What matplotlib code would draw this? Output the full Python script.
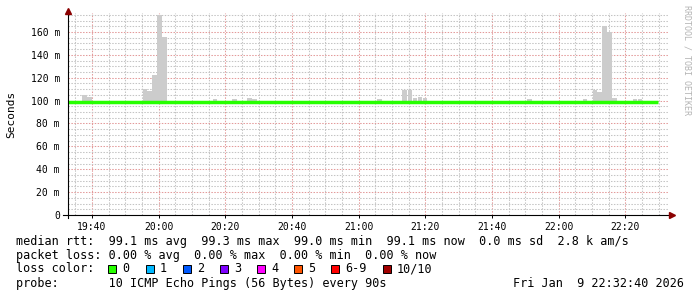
"""
SmokePing style latency graph (3 hours, 90s steps)
"""

import numpy as np
import pandas as pd
import matplotlib
matplotlib.use('Agg')
import matplotlib.pyplot as plt
import matplotlib.dates as mdates
from matplotlib.patches import Rectangle
from matplotlib.ticker import MultipleLocator, FuncFormatter

W, H = 697, 297

# start of the graph window and step of the rrd
start_time = pd.Timestamp('2026-01-09 19:32:40')
step_s = 90

# top of the smoke (ms) for every 90s step, 99.1 = no visible smoke
smoke_top_ms = [
    99.1, 99.1, 99.1, 104.9, 103.2, 99.1, 99.1, 99.1, 99.1, 99.1,
    99.1, 99.1, 99.1, 99.1, 99.1, 110.0, 108.6, 122.7, 175.1, 155.6,
    99.1, 99.1, 99.1, 99.1, 99.1, 99.1, 99.1, 99.1, 99.1, 101.4,
    99.1, 99.1, 99.1, 101.4, 99.1, 99.1, 102.3, 101.4, 99.1, 99.1,
    99.1, 99.1, 99.1, 99.1, 99.1, 99.1, 99.1, 99.1, 99.1, 99.1,
    99.1, 99.1, 99.1, 99.1, 99.1, 99.1, 99.1, 99.1, 99.1, 99.1,
    99.1, 99.1, 101.4, 99.1, 99.1, 99.1, 99.1, 109.6, 109.6, 102.3,
    103.2, 102.3, 99.1, 99.1, 99.1, 99.1, 99.1, 99.1, 99.1, 99.1,
    99.1, 99.1, 99.1, 99.1, 99.1, 99.1, 99.1, 99.1, 99.1, 99.1,
    99.1, 99.1, 101.4, 99.1, 99.1, 99.1, 99.1, 99.1, 99.1, 99.1,
    99.1, 99.1, 99.1, 101.4, 99.1, 109.6, 107.4, 165.5, 160.3, 102.6,
    99.1, 99.1, 99.1, 101.6, 101.6, 99.1, 99.1, 99.1,
]
smoke_low_ms = 99.0
median_ms = 99.1

loss_labels = ['0', '1', '2', '3', '4', '5', '6-9', '10/10']
loss_colors = ['#26ff00', '#00b8ff', '#0059ff', '#7e00ff',
               '#ff00fe', '#ff5500', '#ff0000', '#a10000']

legend_lines = [
    'median rtt:  99.1 ms avg  99.3 ms max  99.0 ms min  99.1 ms now  0.0 ms sd  2.8 k am/s',
    'packet loss: 0.00 % avg  0.00 % max  0.00 % min  0.00 % now',
    'loss color:',
    'probe:       10 ICMP Echo Pings (56 Bytes) every 90s',
]
date_text = 'Fri Jan  9 22:32:40 2026'

MONO = 'DejaVu Sans Mono'


def fx(x):
    return x / W


def fy(y):
    return 1 - y / H


def main():
    n = len(smoke_top_ms)
    times = start_time + pd.to_timedelta(np.arange(n) * step_s, unit='s')
    edges = start_time + pd.to_timedelta(np.arange(n + 1) * step_s, unit='s')
    width = step_s / 86400.0
    top = np.array(smoke_top_ms)
    median = np.array([median_ms] * n)

    fig = plt.figure(figsize=(W / 100, H / 100), dpi=100)
    fig.patch.set_facecolor('white')
    ax = fig.add_axes([fx(67.5), fy(215), 600 / W, 202 / H])

    # smoke
    ax.bar(times, (top - smoke_low_ms) / 1000, bottom=smoke_low_ms / 1000,
           width=width, align='edge', color='#cccccc', linewidth=0, zorder=2)

    # median line
    ax.step(edges, np.append(median, median[-1]) / 1000, where='post',
            color='#26ff00', linewidth=2.5, solid_capstyle='butt', zorder=3)

    ax.set_xlim(start_time, start_time + pd.Timedelta(hours=3))
    ax.set_ylim(0, 0.1766)

    ax.xaxis.set_major_locator(mdates.MinuteLocator(byminute=[0, 20, 40]))
    ax.xaxis.set_minor_locator(mdates.MinuteLocator(byminute=range(0, 60, 5)))
    ax.xaxis.set_major_formatter(mdates.DateFormatter('%H:%M'))
    ax.yaxis.set_major_locator(MultipleLocator(0.02))
    ax.yaxis.set_minor_locator(MultipleLocator(0.005))
    ax.yaxis.set_major_formatter(FuncFormatter(
        lambda v, p: '0' if abs(v) < 1e-9 else '%d m' % round(v * 1000)))

    ax.grid(which='minor', color='#c4c4c4', linestyle=(0, (1.4, 1.4)), linewidth=0.75, zorder=0)
    ax.grid(which='major', color='#e39a9a', linestyle=(0, (1.4, 1.4)), linewidth=0.75, zorder=1)
    ax.set_axisbelow(True)

    for s in ax.spines.values():
        s.set_visible(False)

    ax.tick_params(axis='x', which='major', length=2.2, width=0.7, direction='out',
                   pad=2.5, labelsize=7)
    ax.tick_params(axis='x', which='minor', length=0)
    ax.tick_params(axis='y', which='both', length=0, pad=5.4, labelsize=7)
    for lab in ax.get_xticklabels() + ax.get_yticklabels():
        lab.set_fontfamily(MONO)

    ax.set_ylabel('Seconds', fontfamily=MONO, fontsize=8, va='center')
    ax.yaxis.set_label_coords((11 - 67.5) / 600, 0.5)

    # axes with arrows
    ax.plot([fx(67.5), fx(67.5)], [fy(218), fy(12)], transform=fig.transFigure,
            color='black', linewidth=0.8, clip_on=False, zorder=5)
    ax.plot([fx(63), fx(670)], [fy(215), fy(215)], transform=fig.transFigure,
            color='black', linewidth=0.8, clip_on=False, zorder=5)
    ax.plot(fx(67.5), fy(10.5), marker='^', markersize=4, color='#8b0000',
            transform=fig.transFigure, clip_on=False, zorder=6)
    ax.plot(fx(671.5), fy(215), marker='>', markersize=4, color='#8b0000',
            transform=fig.transFigure, clip_on=False, zorder=6)

    # watermark
    fig.text(fx(687), fy(5), 'RRDTOOL / TOBI OETIKER', rotation=270,
             ha='center', va='top', fontfamily=MONO, fontsize=6, color='#b4b4b4')

    # legend lines
    line_y = [241, 255, 269, 283.3]
    for txt, y in zip(legend_lines, line_y):
        fig.text(fx(15.5), fy(y), txt, ha='left', va='center',
                 fontfamily=MONO, fontsize=8.5, color='black')
    fig.text(fx(513), fy(line_y[3]), date_text, ha='left', va='center',
             fontfamily=MONO, fontsize=8.5, color='black')

    # loss color swatches
    sx = 108.3
    for lab, col in zip(loss_labels, loss_colors):
        fig.patches.append(Rectangle((fx(sx), fy(line_y[2] + 4)), 8 / W, 8 / H,
                                     transform=fig.transFigure, facecolor=col,
                                     edgecolor='black', linewidth=0.7))
        fig.text(fx(sx + 14), fy(line_y[2]), lab, ha='left', va='center',
                 fontfamily=MONO, fontsize=8.5, color='black')
        sx += 37.2 + 7.1 * (len(lab) - 1)

    plt.savefig('out.png', dpi=100)


if __name__ == '__main__':
    main()
